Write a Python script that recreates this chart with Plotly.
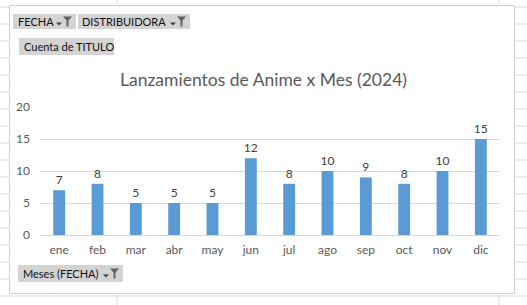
import plotly.graph_objects as go

months = ["ene", "feb", "mar", "abr", "may", "jun", "jul", "ago", "sep", "oct", "nov", "dic"]
counts = [7, 8, 5, 5, 5, 12, 8, 10, 9, 8, 10, 15]
y_ticks = [0, 5, 10, 15, 20]

W, H = 527, 305
L, R, T, B = 40, 500, 107, 235  # plot area in pixels


def px(x):
    return (x - L) / (R - L)


def py(y):
    return (B - y) / (B - T)


FONT = "Lato, Arial, sans-serif"
GRID = "#dadada"

fig = go.Figure()
fig.add_trace(go.Bar(
    x=months, y=counts, width=0.31,
    marker=dict(color="#5b9bd5", line=dict(width=0)),
    text=[str(v) for v in counts], textposition="outside", constraintext="none",
    textfont=dict(family=FONT, size=12, color="#404040"),
    cliponaxis=False, hoverinfo="skip",
))

shapes = []
# Excel cell grid outside chart
for k in range(18):
    y = 7 + 17 * k
    shapes.append(dict(type="line", xref="paper", yref="paper",
                       x0=px(0), x1=px(W), y0=py(y), y1=py(y),
                       line=dict(color=GRID, width=1), layer="below"))
for x in (117, 499):
    shapes.append(dict(type="line", xref="paper", yref="paper",
                       x0=px(x), x1=px(x), y0=py(0), y1=py(H),
                       line=dict(color=GRID, width=1), layer="below"))
# chart area (white with border)
shapes.append(dict(type="rect", xref="paper", yref="paper",
                   x0=px(9.5), x1=px(514.5), y0=py(5.5), y1=py(293.5),
                   fillcolor="white", line=dict(color="#d0d0d0", width=1), layer="below"))

annotations = []


def button(x0, x1, y0, y1, label, tx, icon=True):
    shapes.append(dict(type="rect", xref="paper", yref="paper",
                       x0=px(x0), x1=px(x1), y0=py(y0), y1=py(y1),
                       fillcolor="#d3d3d3", line=dict(width=0), layer="above"))
    annotations.append(dict(text=label, xref="paper", yref="paper",
                            x=px(tx), y=py((y0 + y1) / 2), xanchor="left", yanchor="middle",
                            showarrow=False, font=dict(family=FONT, size=11, color="#111111")))
    if icon:
        # small dropdown arrow
        ax = x1 - 20
        ym = (y0 + y1) / 2
        shapes.append(dict(type="path", xref="paper", yref="paper",
                           path=f"M {px(ax)},{py(ym+1)} L {px(ax+6)},{py(ym+1)} L {px(ax+3)},{py(ym+4)} Z",
                           fillcolor="#404040", line=dict(width=0)))
        # funnel
        fx = x1 - 13
        shapes.append(dict(type="path", xref="paper", yref="paper",
                           path=(f"M {px(fx)},{py(ym-5)} L {px(fx+9)},{py(ym-5)} L {px(fx+5.5)},{py(ym-1)} "
                                 f"L {px(fx+5.5)},{py(ym+5)} L {px(fx+3.5)},{py(ym+5)} L {px(fx+3.5)},{py(ym-1)} Z"),
                           fillcolor="#606060", line=dict(width=0)))


button(13, 76, 14, 29, "FECHA", 16)
button(78, 190, 14, 29, "DISTRIBUIDORA", 80)
button(19, 114, 38, 55, "Cuenta de TITULO", 22, icon=False)
button(18, 123, 265, 282, "Meses (FECHA)", 21)

annotations.append(dict(text="Lanzamientos de Anime x Mes (2024)", xref="paper", yref="paper",
                        x=px(263), y=py(79), xanchor="center", yanchor="middle", showarrow=False,
                        font=dict(family=FONT, size=17.5, color="#595959")))

fig.update_layout(
    width=W, height=H,
    margin=dict(l=L, r=W - R, t=T, b=H - B, pad=0),
    paper_bgcolor="white", plot_bgcolor="rgba(0,0,0,0)",
    showlegend=False, shapes=shapes, annotations=annotations,
    bargap=0.69,
)
fig.update_xaxes(showgrid=False, showline=True, linecolor=GRID, linewidth=1,
                 ticks="", tickfont=dict(family=FONT, size=12, color="#595959"),
                 ticklabelstandoff=4, fixedrange=True)
fig.update_yaxes(range=[0, 20], tickvals=y_ticks, showgrid=True, gridcolor=GRID, gridwidth=1,
                 zeroline=False, showline=False, ticks="",
                 tickfont=dict(family=FONT, size=12, color="#595959"),
                 ticklabelstandoff=9, fixedrange=True)

fig.write_html("out.html")
